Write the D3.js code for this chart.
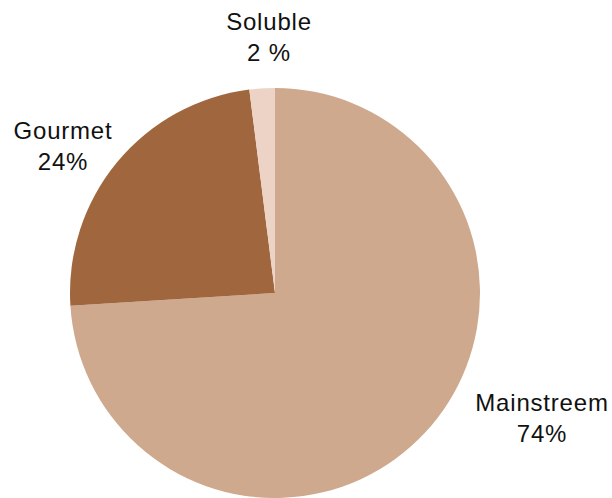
<!DOCTYPE html>
<html>
<head>
<meta charset="utf-8">
<script src="https://cdn.jsdelivr.net/npm/d3@7"></script>
<style>
  body { margin: 0; background: #fff; }
  svg text { font-family: "Liberation Sans", Arial, sans-serif; fill: #111; letter-spacing: 0.8px; }
</style>
</head>
<body>
<div id="chart"></div>
<script>
// data
const categories = ["Mainstreem", "Gourmet", "Soluble"];
const shares = [74, 24, 2];
const shareLabels = ["74%", "24%", "2 %"];
const colors = ["#cea98e", "#a0673f", "#edd3c6"];

// label anchors (layout only), baseline of the first line
const labelPos = [[542, 411], [63, 139], [269, 30]];

let totalWidth = 612,
    totalHeight = 498,
    cx = 275,
    cy = 293,
    radius = 205;

const svg = d3.select("#chart").append("svg")
    .attr("width", totalWidth)
    .attr("height", totalHeight);

const pie = d3.pie()
    .sort(null)
    .value(d => d);

const arc = d3.arc()
    .innerRadius(0)
    .outerRadius(radius);

const g = svg.append("g")
    .attr("transform", "translate(" + cx + "," + cy + ")");

g.selectAll("path")
    .data(pie(shares))
    .enter().append("path")
    .attr("d", arc)
    .attr("fill", (d, i) => colors[i]);

const labels = svg.selectAll("text.lbl")
    .data(categories)
    .enter().append("text")
    .attr("class", "lbl")
    .attr("text-anchor", "middle")
    .attr("font-size", 24)
    .attr("x", (d, i) => labelPos[i][0])
    .attr("y", (d, i) => labelPos[i][1]);

labels.append("tspan")
    .attr("x", (d, i) => labelPos[i][0])
    .text(d => d);

labels.append("tspan")
    .attr("x", (d, i) => labelPos[i][0])
    .attr("dy", 31)
    .text((d, i) => shareLabels[i]);
</script>
</body>
</html>
